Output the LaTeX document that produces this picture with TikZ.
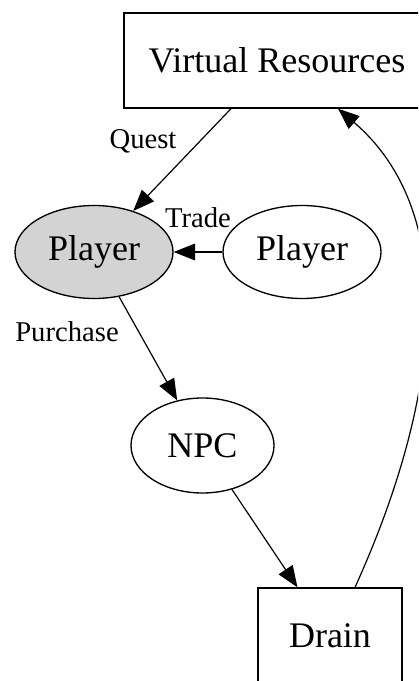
\documentclass[tikz,border=0pt]{standalone}
\usepackage{fontspec}
\setmainfont{Liberation Serif}
\usetikzlibrary{shapes.geometric,arrows.meta,calc}
\definecolor{gvgray}{HTML}{D3D3D3}
\tikzset{
  base/.style={draw=black, line width=1pt, inner sep=0pt, font=\fontsize{27}{30}\selectfont},
  boxnode/.style={base, rectangle},
  ellnode/.style={base, ellipse},
  lbl/.style={font=\fontsize{21.5}{24}\selectfont, inner sep=0pt},
  edge/.style={line width=0.9pt, -{Triangle[length=16pt, width=12.5pt]}}
}
\begin{document}
\begin{tikzpicture}[x=0.75pt, y=-0.75pt]
\useasboundingbox (0,0) rectangle (418,681);
\begin{scope}
\clip (0,0) rectangle (418,681);
\fill[white] (0,0) rectangle (418,681);
\node[boxnode, minimum width={306*0.75pt}, minimum height={95*0.75pt}] (vr) at (277,60.5) {Virtual Resources};
\node[ellnode, fill=gvgray, minimum width={158*0.75pt}, minimum height={93*0.75pt}] (p1) at (94,252) {Player};
\node[ellnode, minimum width={158*0.75pt}, minimum height={93*0.75pt}] (p2) at (302,252) {Player};
\node[ellnode, minimum width={143*0.75pt}, minimum height={95*0.75pt}] (npc) at (202.5,445.5) {NPC};
\node[boxnode, minimum width={144*0.75pt}, minimum height={96*0.75pt}] (drain) at (330,636) {Drain};

\draw[edge] (vr) -- (p1);
\draw[edge] (p2) -- (p1);
\draw[edge] (p1) -- (npc);
\draw[edge] (npc) -- (drain);
\draw[edge] ($(drain.north)+(25,0)$) .. controls (440,400) and (462,215) .. ($(vr.south)+(61,0)$);

\node[lbl] (lq) at (143,141) {Quest};
\node[lbl] (lt) at (198,218) {Trade};
\node[lbl] (lp) at (67,332) {Purchase};
\end{scope}
\end{tikzpicture}
\end{document}
